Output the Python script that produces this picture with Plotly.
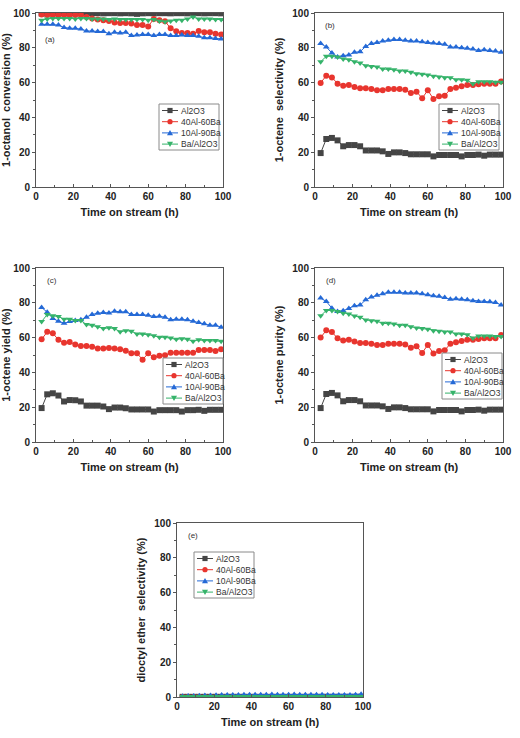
import plotly.graph_objects as go

time_h = [3, 6, 9, 12, 15, 18, 21, 24, 27, 30, 33, 36, 39, 42, 45, 48, 51, 54, 57, 60,
          63, 66, 69, 72, 75, 78, 81, 84, 87, 90, 93, 96, 99]
series_names = ["Al2O3", "40Al-60Ba", "10Al-90Ba", "Ba/Al2O3"]

# (a) 1-octanol conversion
conv_al2o3 = [99.7, 99.8, 99.8, 99.9, 99.9, 99.8, 99.9, 99.9, 99.8, 99.9, 99.9, 99.8, 99.9, 99.9, 99.8, 99.9, 99.8,
              99.5, 99.8, 99.9, 99.8, 99.9, 99.9, 99.8, 99.9, 99.9, 99.8, 99.9, 99.9, 99.8, 99.9, 99.9, 99.8]
conv_40al = [99.2, 98.9, 98.9, 98.9, 98.9, 98.9, 98.9, 98.9, 97.7, 96.9, 96.2, 95.8, 95.4, 94.6, 94.3, 94.3, 93.9,
             93.1, 93.1, 92.3, 96.6, 95.8, 95.2, 91.2, 89.5, 88.5, 88.5, 88.1, 89.7, 88.9, 88.9, 88.1, 87.7]
conv_10al = [93.5, 93.5, 93.5, 93.1, 91.6, 91.2, 91.2, 90.8, 89.7, 89.7, 89.3, 89.3, 88.1, 88.9, 88.5, 88.9, 87.0,
             87.4, 87.7, 87.7, 87.0, 87.7, 87.7, 87.0, 87.0, 87.4, 87.0, 87.0, 86.6, 85.8, 85.8, 85.4, 85.1]
conv_baal = [95.8, 96.6, 96.9, 96.9, 96.9, 96.9, 96.6, 96.9, 96.9, 96.6, 96.6, 96.6, 96.2, 96.6, 96.2, 96.2, 96.2,
             96.2, 96.2, 95.8, 96.2, 95.4, 95.0, 95.4, 95.8, 95.8, 96.6, 97.7, 96.6, 96.6, 96.6, 96.2, 96.2]

# (b) 1-octene selectivity
sel_al2o3 = [19.5, 27.6, 28.2, 26.8, 23.4, 24.1, 24.1, 23.4, 21.0, 21.0, 21.0, 20.5, 19.0, 19.9, 19.9, 19.5, 18.8,
             18.8, 18.8, 18.8, 17.6, 18.4, 18.4, 18.4, 18.4, 17.6, 18.4, 18.4, 18.6, 18.0, 18.6, 18.6, 18.6]
sel_40al = [59.8, 64.0, 63.0, 59.4, 58.2, 58.6, 57.5, 56.7, 56.7, 56.3, 55.6, 55.6, 56.3, 56.3, 56.3, 55.9, 54.0,
            54.8, 51.0, 55.6, 50.6, 52.1, 52.5, 56.3, 57.1, 57.9, 58.6, 58.6, 59.0, 59.4, 59.4, 59.4, 60.7]
sel_10al = [82.4, 80.5, 77.0, 74.7, 75.5, 75.9, 77.4, 77.8, 80.8, 82.4, 83.1, 83.9, 84.3, 84.7, 84.7, 84.3, 83.9,
            83.9, 83.5, 83.1, 82.8, 82.4, 82.0, 80.5, 80.5, 80.1, 79.7, 79.3, 78.5, 78.9, 78.5, 78.2, 77.4]
sel_baal = [72.0, 75.1, 75.1, 74.7, 73.6, 73.2, 72.0, 71.3, 69.7, 69.3, 69.0, 67.8, 67.8, 67.4, 66.7, 66.7, 65.9,
            65.1, 64.8, 64.4, 63.6, 63.2, 62.8, 62.8, 61.7, 61.7, 61.3, 59.4, 60.5, 60.5, 60.5, 60.2, 60.2]

# (c) 1-octene yield
yld_al2o3 = [19.5, 27.4, 28.0, 26.7, 23.3, 24.1, 24.0, 23.3, 20.9, 20.9, 20.9, 20.4, 18.9, 19.8, 19.8, 19.4, 18.7,
             18.7, 18.7, 18.7, 17.5, 18.3, 18.3, 18.3, 18.3, 17.5, 18.3, 18.3, 18.5, 17.9, 18.5, 18.5, 18.5]
yld_40al = [59.0, 63.3, 62.5, 58.7, 57.1, 57.5, 56.0, 55.2, 55.2, 54.8, 53.7, 53.7, 54.0, 53.7, 53.3, 52.5, 51.0,
            51.0, 47.3, 51.0, 48.7, 49.6, 49.8, 51.3, 51.3, 51.3, 51.3, 51.3, 52.9, 52.9, 52.9, 52.3, 53.3]
yld_10al = [77.3, 74.6, 71.0, 69.4, 68.3, 69.2, 69.8, 70.2, 71.7, 73.3, 74.0, 74.4, 74.2, 75.2, 74.8, 74.8, 73.3,
            73.3, 73.3, 72.9, 72.1, 72.3, 71.7, 70.2, 70.6, 70.6, 70.2, 69.4, 68.7, 67.9, 67.1, 67.1, 66.0]
yld_baal = [69.2, 73.3, 72.5, 72.1, 70.6, 70.6, 69.8, 69.8, 67.5, 67.1, 66.3, 65.2, 65.6, 65.2, 63.3, 64.0, 63.7,
            62.1, 62.1, 61.7, 61.0, 60.2, 60.2, 59.8, 59.0, 59.4, 59.0, 57.9, 58.7, 58.3, 58.3, 58.3, 57.9]

# (d) 1-octene purity
pur_al2o3 = [19.5, 27.6, 28.2, 26.8, 23.4, 24.1, 24.1, 23.4, 21.0, 21.0, 21.0, 20.5, 19.0, 19.9, 19.9, 19.5, 18.8,
             18.8, 18.8, 18.8, 17.6, 18.4, 18.4, 18.4, 18.4, 17.6, 18.4, 18.4, 18.6, 18.0, 18.6, 18.6, 18.6]
pur_40al = [60.0, 64.2, 63.2, 59.6, 58.4, 58.8, 57.7, 56.9, 56.9, 56.5, 55.8, 55.8, 56.5, 56.5, 56.5, 56.1, 54.2,
            55.0, 51.2, 55.8, 50.8, 52.3, 52.7, 56.5, 57.3, 58.1, 58.8, 58.8, 59.2, 59.6, 59.6, 59.6, 61.5]
pur_10al = [82.7, 80.8, 76.9, 75.0, 75.4, 76.7, 78.3, 78.7, 81.7, 83.3, 84.4, 85.2, 86.0, 86.0, 86.0, 85.6, 85.6,
            85.6, 85.2, 84.6, 84.0, 83.7, 83.0, 82.0, 82.3, 82.0, 81.7, 81.2, 80.8, 80.8, 80.6, 80.2, 78.7]
pur_baal = [72.5, 75.6, 75.6, 75.0, 74.0, 73.6, 72.4, 71.7, 70.1, 69.7, 69.4, 68.2, 68.2, 67.8, 67.1, 67.1, 66.3,
            65.5, 65.2, 64.8, 64.0, 63.6, 63.2, 63.2, 62.1, 62.1, 61.7, 59.8, 60.9, 60.9, 60.9, 60.6, 60.6]

# (e) dioctyl ether selectivity
eth_al2o3 = [0.1] * 33
eth_40al = [0.0] * 33
eth_10al = [0.5, 0.6, 0.6, 0.7, 0.8, 0.9, 1.0, 1.1, 1.2, 1.2, 1.2, 1.3, 1.3, 1.3, 1.3, 1.3, 1.4,
            1.3, 1.3, 1.3, 1.4, 1.3, 1.3, 1.3, 1.3, 1.3, 1.2, 1.2, 1.2, 1.2, 1.2, 1.3, 1.6]
eth_baal = [0.3] * 33

y_titles = ["1-octanol  conversion (%)", "1-octene  selectivity (%)", "1-octene yield (%)",
            "1-octene purity (%)", "dioctyl ether  selectivity (%)"]
panel_tags = ["(a)", "(b)", "(c)", "(d)", "(e)"]
panel_data = [
    [conv_al2o3, conv_40al, conv_10al, conv_baal],
    [sel_al2o3, sel_40al, sel_10al, sel_baal],
    [yld_al2o3, yld_40al, yld_10al, yld_baal],
    [pur_al2o3, pur_40al, pur_10al, pur_baal],
    [eth_al2o3, eth_40al, eth_10al, eth_baal],
]

colors = ["#454545", "#e8352e", "#2469d6", "#35b36a"]
symbols = ["square", "circle", "triangle-up", "triangle-down"]

W, H = 520, 738
OFF = 0  # page body margin removed via post_script
# plot boxes in screen pixels: left, right, top, bottom
boxes = [(36, 223, 13, 187), (315, 503, 13, 187), (36, 223, 268, 442), (315, 503, 268, 442), (177, 363, 523, 697)]
legend_pos = [(159, 104), (439, 104), (163, 358), (442, 353), (194, 552)]
tag_pos = [(0.035, 0.85), (0.04, 0.93), (0.05, 0.93), (0.05, 0.93), (0.05, 0.93)]

fig = go.Figure()
font_fam = "Liberation Sans, Arial, sans-serif"


def px(xs):
    return (xs - OFF) / W


def py(ys):
    return 1 - (ys - OFF) / H


shapes = []
annotations = []

for p in range(5):
    ax = "" if p == 0 else str(p + 1)
    for s in range(4):
        fig.add_trace(go.Scatter(
            x=time_h, y=panel_data[p][s], name=series_names[s],
            mode="lines+markers",
            line=dict(color=colors[s], width=1),
            marker=dict(symbol=symbols[s], size=6, color=colors[s]),
            xaxis="x" + ax, yaxis="y" + ax, showlegend=False,
        ))
    l, r, t, b = boxes[p]
    axis_common = dict(
        showline=True, linecolor="#555555", linewidth=1, mirror=True,
        tickwidth=1, tickcolor="#555555", automargin=False,
        showgrid=False, zeroline=False,
        tickfont=dict(family=font_fam, size=10, color="#222222", weight="bold"),
    )
    fig.update_layout(**{
        "xaxis" + ax: dict(domain=[px(l), px(r)], anchor="y" + ax, range=[0, 100], dtick=20,
                           ticks="inside", ticklen=3,
                           minor=dict(ticks="inside", ticklen=2, tickcolor="#555555", dtick=10),
                           title=dict(text="Time on stream (h)", standoff=7,
                                      font=dict(family=font_fam, size=11, color="#222222", weight="bold")),
                           **axis_common),
        "yaxis" + ax: dict(domain=[py(b), py(t)], anchor="x" + ax, range=[0, 100], dtick=20,
                           ticks="outside", ticklen=3,
                           minor=dict(ticks="outside", ticklen=2, tickcolor="#555555", dtick=10),
                           title=dict(text=y_titles[p], standoff=6,
                                      font=dict(family=font_fam, size=11, color="#222222", weight="bold")),
                           **axis_common),
    })
    annotations.append(dict(text=panel_tags[p], xref="x" + ax + " domain", yref="y" + ax + " domain",
                            x=tag_pos[p][0], y=tag_pos[p][1], xanchor="left", yanchor="middle", showarrow=False,
                            font=dict(family=font_fam, size=8, color="#333333")))

    # custom compact legend
    lx, ly = legend_pos[p]
    bw, bh = 60, 46
    shapes.append(dict(type="rect", xref="paper", yref="paper",
                       x0=px(lx), x1=px(lx + bw), y0=py(ly + bh), y1=py(ly),
                       line=dict(color="#8a8a8a", width=1), fillcolor="white", layer="above"))
    for s in range(4):
        cy = ly + 6.5 + s * 11.2
        shapes.append(dict(type="line", xref="paper", yref="paper",
                           x0=px(lx + 3), x1=px(lx + 19), y0=py(cy), y1=py(cy),
                           line=dict(color=colors[s], width=1), layer="above"))
        mx, r0 = lx + 11, 2.6
        if s == 0:
            shapes.append(dict(type="rect", xref="paper", yref="paper",
                               x0=px(mx - r0), x1=px(mx + r0), y0=py(cy + r0), y1=py(cy - r0),
                               line=dict(width=0), fillcolor=colors[s], layer="above"))
        elif s == 1:
            shapes.append(dict(type="circle", xref="paper", yref="paper",
                               x0=px(mx - r0), x1=px(mx + r0), y0=py(cy + r0), y1=py(cy - r0),
                               line=dict(width=0), fillcolor=colors[s], layer="above"))
        elif s == 2:
            path = "M {} {} L {} {} L {} {} Z".format(px(mx), py(cy - 3), px(mx - 3), py(cy + 2.4),
                                                      px(mx + 3), py(cy + 2.4))
            shapes.append(dict(type="path", xref="paper", yref="paper", path=path,
                               line=dict(width=0), fillcolor=colors[s], layer="above"))
        else:
            path = "M {} {} L {} {} L {} {} Z".format(px(mx), py(cy + 3), px(mx - 3), py(cy - 2.4),
                                                      px(mx + 3), py(cy - 2.4))
            shapes.append(dict(type="path", xref="paper", yref="paper", path=path,
                               line=dict(width=0), fillcolor=colors[s], layer="above"))
        annotations.append(dict(text=series_names[s], xref="paper", yref="paper",
                                x=px(lx + 20), y=py(cy), xanchor="left", yanchor="middle", showarrow=False,
                                font=dict(family=font_fam, size=8.5, color="#333333")))

fig.update_layout(width=W, height=H, margin=dict(l=0, r=0, t=0, b=0),
                  paper_bgcolor="white", plot_bgcolor="white", showlegend=False,
                  shapes=shapes, annotations=annotations)
fig.write_html("out.html", config={"displayModeBar": False},
               post_script="document.body.style.margin='0';")
